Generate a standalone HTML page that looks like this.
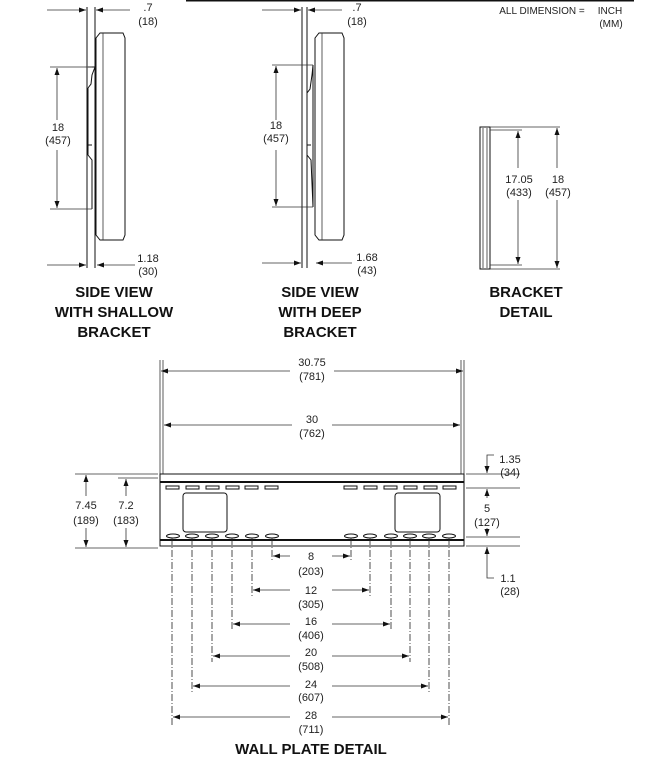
<!DOCTYPE html>
<html><head><meta charset="utf-8"><style>
html,body{margin:0;padding:0;background:#fff}
svg{display:block}
text{font-family:"Liberation Sans",Arial,sans-serif;font-size:11px;fill:#222;text-anchor:middle}
.h{font-size:15px;font-weight:bold;fill:#111}
.l{stroke:#111;stroke-width:1;fill:none}
.t{stroke:#333;stroke-width:0.8;fill:none}
.d{stroke:#222;stroke-width:0.8;fill:none;stroke-dasharray:7 2 1 2}
</style></head><body>
<svg width="656" height="759" viewBox="0 0 656 759" xmlns="http://www.w3.org/2000/svg">
<defs>
<marker id="a" markerWidth="8" markerHeight="6" refX="7" refY="3" orient="auto" markerUnits="userSpaceOnUse"><path d="M0,0.5 L7,3 L0,5.5z" fill="#111"/></marker>
</defs>
<line x1="186" y1="0.5" x2="634" y2="0.5" stroke="#111" stroke-width="2"/>
<text x="542" y="14" style="font-size:10px">ALL DIMENSION =</text>
<text x="610" y="14" style="font-size:10px">INCH</text>
<text x="611" y="27" style="font-size:10px">(MM)</text>

<!-- Side view 1 -->
<line class="l" x1="87" y1="7" x2="87" y2="268"/>
<line class="l" x1="95" y1="7" x2="95" y2="268"/>
<path class="l" d="M100,33 L123,33 L125,38 L125,235 L123,240 L100,240 L96,235 L96,38 Z"/>
<line class="t" x1="103" y1="33" x2="103" y2="240"/>
<path class="l" d="M95,67 L95,209 M88,67 L95,67 M88,88 L88,145 L92,145 M88,88 L91,84 L92,75 L95,67 M88,145 L88,155 L92,160 L92,209"/>
<line class="t" x1="50" y1="67" x2="92" y2="67"/>
<line class="t" x1="50" y1="209" x2="92" y2="209"/>
<line class="t" x1="57" y1="120" x2="57" y2="68" marker-end="url(#a)"/>
<line class="t" x1="57" y1="150" x2="57" y2="208" marker-end="url(#a)"/>
<text x="58" y="131">18</text><text x="58" y="144">(457)</text>
<line class="t" x1="47" y1="10" x2="86" y2="10" marker-end="url(#a)"/>
<line class="t" x1="130" y1="10" x2="96" y2="10" marker-end="url(#a)"/>
<text x="148" y="11">.7</text><text x="148" y="25">(18)</text>
<line class="t" x1="47" y1="265" x2="86" y2="265" marker-end="url(#a)"/>
<line class="t" x1="135" y1="265" x2="97" y2="265" marker-end="url(#a)"/>
<text x="148" y="262">1.18</text><text x="148" y="275">(30)</text>
<text class="h" x="114" y="297">SIDE VIEW</text>
<text class="h" x="114" y="317">WITH SHALLOW</text>
<text class="h" x="114" y="337">BRACKET</text>

<!-- Side view 2 -->
<line class="l" x1="302" y1="7" x2="302" y2="268"/>
<line class="l" x1="307" y1="7" x2="307" y2="268"/>
<path class="l" d="M319,33 L342,33 L344,38 L344,235 L342,240 L319,240 L315,235 L315,38 Z"/>
<line class="t" x1="322" y1="33" x2="322" y2="240"/>
<path class="l" d="M313,65 L313,207 M307,93 L307,145 L311,145 M307,93 L310,89 L312,75 L313,65 M307,145 L307,155 L311,160 L313,207"/>
<line class="t" x1="272" y1="65" x2="313" y2="65"/>
<line class="t" x1="272" y1="207" x2="313" y2="207"/>
<line class="t" x1="276" y1="120" x2="276" y2="66" marker-end="url(#a)"/>
<line class="t" x1="276" y1="150" x2="276" y2="206" marker-end="url(#a)"/>
<text x="276" y="129">18</text><text x="276" y="142">(457)</text>
<line class="t" x1="262" y1="10" x2="301" y2="10" marker-end="url(#a)"/>
<line class="t" x1="342" y1="10" x2="308" y2="10" marker-end="url(#a)"/>
<text x="357" y="11">.7</text><text x="357" y="25">(18)</text>
<line class="t" x1="262" y1="263" x2="301" y2="263" marker-end="url(#a)"/>
<line class="t" x1="352" y1="263" x2="316" y2="263" marker-end="url(#a)"/>
<text x="367" y="261">1.68</text><text x="367" y="274">(43)</text>
<text class="h" x="320" y="297">SIDE VIEW</text>
<text class="h" x="320" y="317">WITH DEEP</text>
<text class="h" x="320" y="337">BRACKET</text>

<!-- Bracket detail -->
<rect class="l" x="480" y="127" width="10" height="142"/>
<line class="t" x1="483" y1="128" x2="483" y2="268"/>
<line class="t" x1="487" y1="128" x2="487" y2="268"/>
<line class="t" x1="490" y1="127" x2="560" y2="127"/>
<line class="t" x1="490" y1="269" x2="560" y2="269"/>
<line class="t" x1="490" y1="130" x2="522" y2="130"/>
<line class="t" x1="490" y1="265" x2="522" y2="265"/>
<line class="t" x1="518" y1="168" x2="518" y2="131" marker-end="url(#a)"/>
<line class="t" x1="518" y1="200" x2="518" y2="264" marker-end="url(#a)"/>
<text x="519" y="183">17.05</text><text x="519" y="196">(433)</text>
<line class="t" x1="557" y1="168" x2="557" y2="128" marker-end="url(#a)"/>
<line class="t" x1="557" y1="200" x2="557" y2="268" marker-end="url(#a)"/>
<text x="558" y="183">18</text><text x="558" y="196">(457)</text>
<text class="h" x="526" y="297">BRACKET</text>
<text class="h" x="526" y="317">DETAIL</text>

<!-- Wall plate -->
<line class="t" x1="160" y1="360" x2="160" y2="474"/>
<line class="t" x1="163" y1="360" x2="163" y2="474"/>
<line class="t" x1="461" y1="360" x2="461" y2="474"/>
<line class="t" x1="464" y1="360" x2="464" y2="474"/>
<line class="t" x1="290" y1="371" x2="161" y2="371" marker-end="url(#a)"/>
<line class="t" x1="334" y1="371" x2="463" y2="371" marker-end="url(#a)"/>
<text x="312" y="366">30.75</text><text x="312" y="380">(781)</text>
<line class="t" x1="292" y1="425" x2="164" y2="425" marker-end="url(#a)"/>
<line class="t" x1="332" y1="425" x2="460" y2="425" marker-end="url(#a)"/>
<text x="312" y="423">30</text><text x="312" y="437">(762)</text>

<rect class="l" x="160" y="474" width="304" height="72"/>
<line x1="160" y1="482" x2="464" y2="482" stroke="#111" stroke-width="2"/>
<line x1="160" y1="540" x2="464" y2="540" stroke="#111" stroke-width="2"/>
<g class="l">
<rect x="166" y="486" width="13" height="3"/><rect x="186" y="486" width="13" height="3"/><rect x="206" y="486" width="13" height="3"/><rect x="226" y="486" width="13" height="3"/><rect x="245" y="486" width="13" height="3"/><rect x="265" y="486" width="13" height="3"/>
<rect x="344" y="486" width="13" height="3"/><rect x="364" y="486" width="13" height="3"/><rect x="384" y="486" width="13" height="3"/><rect x="404" y="486" width="13" height="3"/><rect x="424" y="486" width="13" height="3"/><rect x="443" y="486" width="13" height="3"/>
<rect x="183" y="493" width="44" height="39" rx="3"/>
<rect x="395" y="493" width="45" height="39" rx="3"/>
<ellipse cx="173" cy="536" rx="6.5" ry="2"/><ellipse cx="192" cy="536" rx="6.5" ry="2"/><ellipse cx="212" cy="536" rx="6.5" ry="2"/><ellipse cx="232" cy="536" rx="6.5" ry="2"/><ellipse cx="252" cy="536" rx="6.5" ry="2"/><ellipse cx="272" cy="536" rx="6.5" ry="2"/>
<ellipse cx="351" cy="536" rx="6.5" ry="2"/><ellipse cx="370" cy="536" rx="6.5" ry="2"/><ellipse cx="391" cy="536" rx="6.5" ry="2"/><ellipse cx="410" cy="536" rx="6.5" ry="2"/><ellipse cx="429" cy="536" rx="6.5" ry="2"/><ellipse cx="449" cy="536" rx="6.5" ry="2"/>
</g>
<line class="d" x1="272" y1="538" x2="272" y2="562"/><line class="d" x1="351" y1="538" x2="351" y2="562"/>
<line class="d" x1="252" y1="538" x2="252" y2="596"/><line class="d" x1="370" y1="538" x2="370" y2="596"/>
<line class="d" x1="232" y1="538" x2="232" y2="630"/><line class="d" x1="391" y1="538" x2="391" y2="630"/>
<line class="d" x1="212" y1="538" x2="212" y2="662"/><line class="d" x1="410" y1="538" x2="410" y2="662"/>
<line class="d" x1="192" y1="538" x2="192" y2="693"/><line class="d" x1="429" y1="538" x2="429" y2="693"/>
<line class="d" x1="172" y1="538" x2="172" y2="725"/><line class="d" x1="449" y1="538" x2="449" y2="725"/>
<g class="t">
<line x1="290" y1="556" x2="273" y2="556" marker-end="url(#a)"/><line x1="332" y1="556" x2="350" y2="556" marker-end="url(#a)"/>
<line x1="290" y1="590" x2="253" y2="590" marker-end="url(#a)"/><line x1="332" y1="590" x2="369" y2="590" marker-end="url(#a)"/>
<line x1="290" y1="624" x2="233" y2="624" marker-end="url(#a)"/><line x1="332" y1="624" x2="390" y2="624" marker-end="url(#a)"/>
<line x1="290" y1="656" x2="213" y2="656" marker-end="url(#a)"/><line x1="332" y1="656" x2="409" y2="656" marker-end="url(#a)"/>
<line x1="290" y1="686" x2="193" y2="686" marker-end="url(#a)"/><line x1="332" y1="686" x2="428" y2="686" marker-end="url(#a)"/>
<line x1="290" y1="717" x2="173" y2="717" marker-end="url(#a)"/><line x1="332" y1="717" x2="448" y2="717" marker-end="url(#a)"/>
</g>
<text x="311" y="560">8</text><text x="311" y="575">(203)</text>
<text x="311" y="594">12</text><text x="311" y="608">(305)</text>
<text x="311" y="625">16</text><text x="311" y="639">(406)</text>
<text x="311" y="656">20</text><text x="311" y="670">(508)</text>
<text x="311" y="688">24</text><text x="311" y="701">(607)</text>
<text x="311" y="719">28</text><text x="311" y="733">(711)</text>
<text class="h" x="311" y="754">WALL PLATE DETAIL</text>

<line class="t" x1="75" y1="474" x2="158" y2="474"/>
<line class="t" x1="75" y1="548" x2="158" y2="548"/>
<line class="t" x1="118" y1="478" x2="158" y2="478"/>
<line class="t" x1="86" y1="496" x2="86" y2="475" marker-end="url(#a)"/>
<line class="t" x1="86" y1="528" x2="86" y2="547" marker-end="url(#a)"/>
<text x="86" y="509">7.45</text><text x="86" y="524">(189)</text>
<line class="t" x1="126" y1="496" x2="126" y2="479" marker-end="url(#a)"/>
<line class="t" x1="126" y1="528" x2="126" y2="547" marker-end="url(#a)"/>
<text x="126" y="509">7.2</text><text x="126" y="524">(183)</text>
<line class="t" x1="466" y1="474" x2="520" y2="474"/>
<line class="t" x1="466" y1="488" x2="520" y2="488"/>
<line class="t" x1="466" y1="537" x2="520" y2="537"/>
<line class="t" x1="466" y1="546" x2="520" y2="546"/>
<path class="t" d="M494,455 L487,455 L487,473" marker-end="url(#a)"/>
<text x="510" y="463">1.35</text><text x="510" y="476">(34)</text>
<line class="t" x1="487" y1="498" x2="487" y2="489" marker-end="url(#a)"/>
<line class="t" x1="487" y1="528" x2="487" y2="536" marker-end="url(#a)"/>
<text x="487" y="512">5</text><text x="487" y="526">(127)</text>
<path class="t" d="M494,578 L487,578 L487,547" marker-end="url(#a)"/>
<text x="508" y="582">1.1</text><text x="510" y="595">(28)</text>
</svg>
</body></html>
